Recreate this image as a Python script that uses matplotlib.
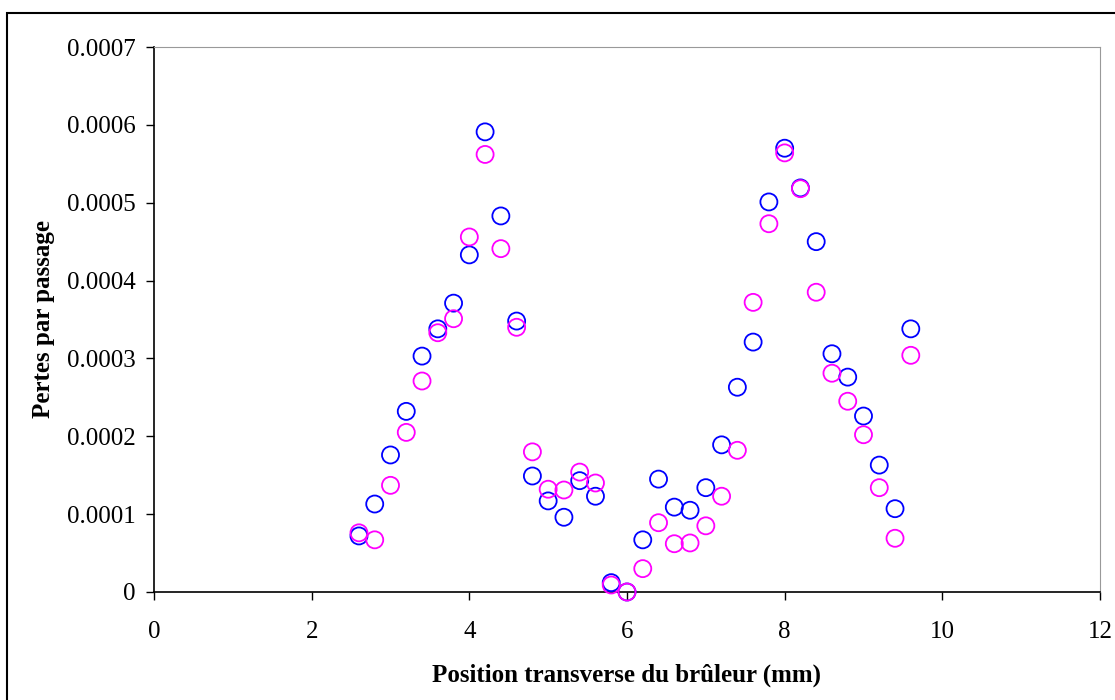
import matplotlib
matplotlib.use("Agg")
import matplotlib.pyplot as plt
from matplotlib.patches import Rectangle

plt.rcParams['font.family'] = ['Liberation Serif', 'DejaVu Serif']

# positions (mm)
positions = [2.6, 2.8, 3.0, 3.2, 3.4, 3.6, 3.8, 4.0, 4.2, 4.4, 4.6, 4.8, 5.0, 5.2,
             5.4, 5.6, 5.8, 6.0, 6.2, 6.4, 6.6, 6.8, 7.0, 7.2, 7.4, 7.6, 7.8, 8.0,
             8.2, 8.4, 8.6, 8.8, 9.0, 9.2, 9.4, 9.6]

pertes_bleu = [0.000072, 0.000113, 0.000176, 0.000232, 0.000303, 0.000338, 0.000371,
               0.000433, 0.000591, 0.000483, 0.000348, 0.000149, 0.000117, 0.000096,
               0.000143, 0.000123, 0.000012, 0.0, 0.000067, 0.000145, 0.000109,
               0.000105, 0.000134, 0.000189, 0.000263, 0.000321, 0.000501, 0.000570,
               0.000519, 0.000450, 0.000306, 0.000276, 0.000226, 0.000163, 0.000107,
               0.000338]

pertes_rose = [0.000076, 0.000067, 0.000137, 0.000205, 0.000271, 0.000333, 0.000351,
               0.000456, 0.000562, 0.000441, 0.000340, 0.000180, 0.000132, 0.000131,
               0.000154, 0.000140, 0.000009, 0.0, 0.000030, 0.000089, 0.000062,
               0.000063, 0.000085, 0.000123, 0.000182, 0.000372, 0.000473, 0.000564,
               0.000518, 0.000385, 0.000281, 0.000245, 0.000202, 0.000134, 0.000069,
               0.000304]

xticks = [0, 2, 4, 6, 8, 10, 12]
yticks = [0, 0.0001, 0.0002, 0.0003, 0.0004, 0.0005, 0.0006, 0.0007]
yticklabels = ['0', '0.0001', '0.0002', '0.0003', '0.0004', '0.0005', '0.0006', '0.0007']

fig = plt.figure(figsize=(11.15, 7), dpi=100)
ax = fig.add_axes([154 / 1115, 108 / 700, 946 / 1115, 545 / 700])

# outer frame of the chart area
fig.patches.append(Rectangle((7 / 1115, -0.1), 1.0, 687 / 700 + 0.1, transform=fig.transFigure,
                             fill=False, edgecolor='black', linewidth=1.5, clip_on=False))

ax.scatter(positions, pertes_bleu, s=150, facecolors='none', edgecolors='#0000ff',
           linewidths=1.3, zorder=3, clip_on=False)
ax.scatter(positions, pertes_rose, s=150, facecolors='none', edgecolors='#ff00ff',
           linewidths=1.3, zorder=3, clip_on=False)

ax.set_xlim(0, 12)
ax.set_ylim(0, 0.0007)
ax.set_xticks(xticks)
ax.set_yticks(yticks)
ax.set_yticklabels(yticklabels)
ax.tick_params(direction='out', length=6, width=1, labelsize=18)
ax.tick_params(axis='x', pad=15)
ax.tick_params(axis='y', pad=7)

ax.spines['top'].set_color('#999999')
ax.spines['right'].set_color('#999999')
for s in ['left', 'bottom']:
    ax.spines[s].set_linewidth(1.2)

ax.set_xlabel('Position transverse du brûleur (mm)', fontsize=18, fontweight='bold', labelpad=15)
ax.set_ylabel('Pertes par passage', fontsize=18, fontweight='bold', labelpad=9)

fig.savefig('out.png', dpi=100)
